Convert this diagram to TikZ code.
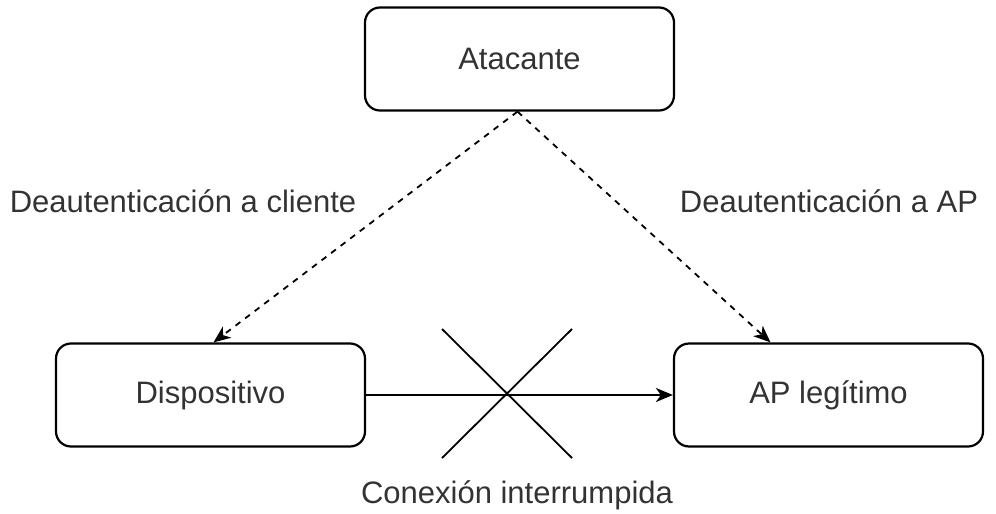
\documentclass[tikz,border=0pt]{standalone}
\usepackage{fontspec}
\setmainfont{Liberation Sans}
\usetikzlibrary{arrows.meta,calc}
\begin{document}
\begin{tikzpicture}[x=1pt,y=-1pt,
  box/.style={draw=black, line width=2.2pt, rounded corners=15pt, minimum width=309pt, minimum height=103pt, inner sep=0pt, font=\fontsize{31}{36}\selectfont, text=black!80},
  lbl/.style={font=\fontsize{31}{36}\selectfont, text=black!80, inner sep=0pt},
  dasharrow/.style={draw=black, line width=1.8pt, dash pattern=on 6pt off 6pt, -{Stealth[length=17pt,width=14pt,inset=5pt]}},
  solidarrow/.style={draw=black, line width=2.2pt, -{Stealth[length=17pt,width=14pt,inset=5pt]}},
  crossline/.style={draw=black, line width=1.8pt}]
\useasboundingbox (0,0) rectangle (996,514);
\node[box] (atk) at (519.5,59) {Atacante};
\node[box] (dev) at (210.5,395) {Dispositivo};
\node[box] (ap) at (828.5,395) {AP legítimo};
\node[lbl] (l1) at (183,201) {Deautenticación a cliente};
\node[lbl] (l2) at (829,201) {Deautenticación a AP};
\node[lbl] (l3) at (517,495) {Conexión interrumpida};
\coordinate (src) at ($(atk.south)+(-2,0)$);
\coordinate (t1) at ($(dev.north)+(3,0)$);
\coordinate (t2) at ($(ap.north)+(-58,0)$);
\draw[dasharrow] (src) -- (t1);
\draw[dasharrow] (src) -- (t2);
\draw[solidarrow] (dev.east) -- (ap.west);
\coordinate (xc) at (507,393);
\draw[crossline] ($(xc)+(-65,-64)$) -- ($(xc)+(65,65)$);
\draw[crossline] ($(xc)+(65,-64)$) -- ($(xc)+(-65,65)$);
\end{tikzpicture}
\end{document}
